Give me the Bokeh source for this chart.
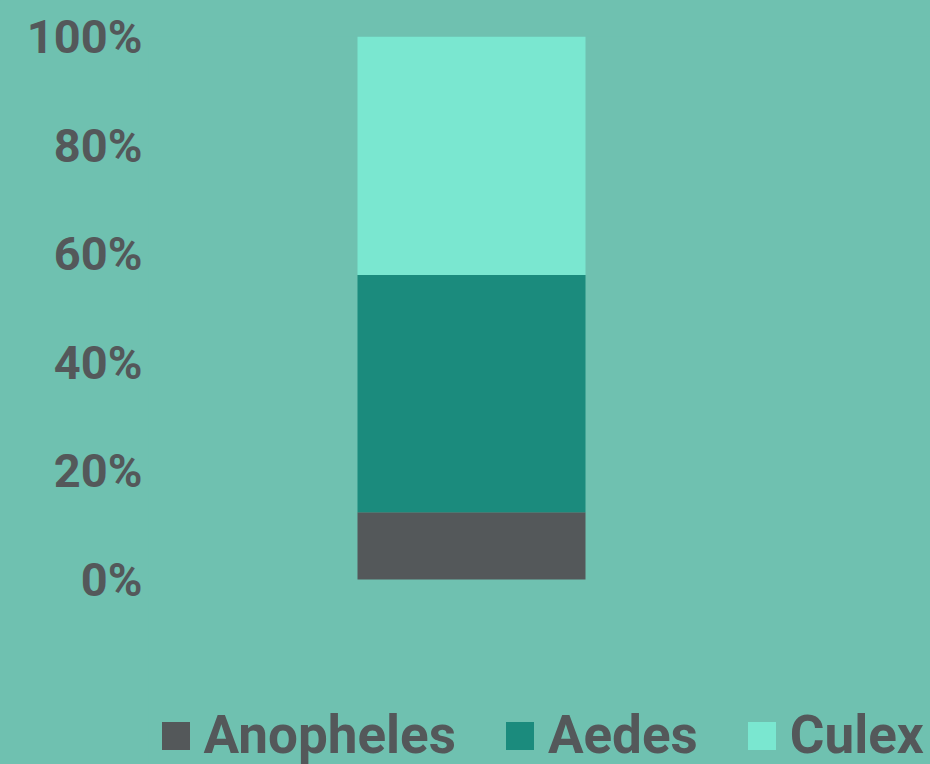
from bokeh.plotting import figure
from bokeh.models import Range1d, NumeralTickFormatter, FixedTicker, Legend, LegendItem, ColumnDataSource
from bokeh.embed import file_html
from bokeh.resources import INLINE

species = ["Anopheles", "Aedes", "Culex"]
shares = [12.4, 43.7, 43.9]  # percent of total
colors = ["#54585A", "#1B8B7D", "#7AE7D0"]
y_ticks = [0, 0.2, 0.4, 0.6, 0.8, 1.0]

BG = "#6FC1B0"
TXT = "#54585A"

data = {"x": [0]}
for s, v in zip(species, shares):
    data[s] = [v / 100.0]
src = ColumnDataSource(data)

W, H = 930, 764
LEFT, TOP = 148, 36
FW = W - LEFT
FH = H - TOP
UNIT = 543.0
p = figure(width=W, height=H, output_backend="svg", toolbar_location=None,
           x_range=Range1d(-323 / 228, (FW - 323) / 228), y_range=Range1d(1 - FH / UNIT, 1),
           min_border_left=LEFT, min_border_right=0, min_border_top=TOP, min_border_bottom=0)
p.styles = {"background-color": BG}
p.background_fill_color = BG
p.border_fill_color = BG
p.outline_line_color = None
p.grid.visible = False
p.xaxis.visible = False

renderers = p.vbar_stack(species, x="x", width=1.0, color=colors, source=src, line_width=0)

ya = p.yaxis[0]
ya.ticker = FixedTicker(ticks=y_ticks)
ya.formatter = NumeralTickFormatter(format="0%")
ya.axis_line_color = None
ya.major_tick_line_color = None
ya.minor_tick_line_color = None
ya.major_tick_out = 0
ya.major_tick_in = 0
ya.major_label_standoff = 6
ya.major_label_text_font = "Roboto"
ya.major_label_text_font_style = "bold"
ya.major_label_text_font_size = "47px"
ya.major_label_text_color = TXT

legend = Legend(items=[LegendItem(label=s, renderers=[r]) for s, r in zip(species, renderers)],
                orientation="horizontal", location=(9.5, -2))
legend.background_fill_alpha = 0
legend.border_line_color = None
legend.padding = 0
legend.margin = 0
legend.glyph_width = 35
legend.glyph_height = 35
legend.label_standoff = 11
legend.spacing = 46
legend.label_text_font = "Roboto"
legend.label_text_font_style = "bold"
legend.label_text_font_size = "53px"
legend.label_text_color = TXT
p.add_layout(legend, "center")

open("out.html", "w").write(file_html(p, INLINE))
